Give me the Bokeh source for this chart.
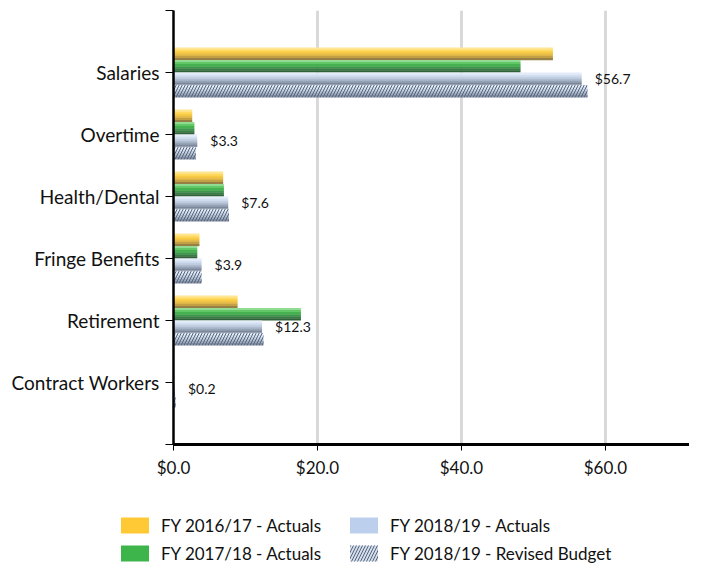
from bokeh.plotting import figure
from bokeh.layouts import column
from bokeh.models import (ColumnDataSource, FixedTicker, Legend, LegendItem,
                          Range1d, NumeralTickFormatter)
from bokeh.embed import file_html
from bokeh.resources import INLINE
from bokeh.core.properties import value

# ---------------- data ----------------
categories = ["Salaries", "Overtime", "Health/Dental", "Fringe Benefits",
              "Retirement", "Contract Workers"]
fy1617 = [52.7, 2.6, 6.9, 3.6, 8.9, 0.0]
fy1718 = [48.2, 2.9, 7.0, 3.3, 17.7, 0.0]
fy1819 = [56.7, 3.3, 7.6, 3.9, 12.3, 0.2]
fy1819_budget = [57.5, 3.1, 7.7, 3.9, 12.5, 0.3]
series_names = ["FY 2016/17 - Actuals", "FY 2017/18 - Actuals",
                "FY 2018/19 - Actuals", "FY 2018/19 - Revised Budget"]
x_ticks = [0, 20, 40, 60]

FONT = "Lato"

n = len(categories)
pos = [n - i for i in range(n)]          # Salaries at top

p = figure(width=689, height=490, output_backend="svg", toolbar_location=None,
           x_range=Range1d(0, 71.67), y_range=Range1d(0, n + 1),
           min_border_left=173, min_border_right=0, min_border_top=10,
           min_border_bottom=46)
p.outline_line_color = None

# shading (top -> bottom) for a cylinder-like look
shades = [
    ["#FFE591", "#FFD95C", "#F7C944", "#E6BC4A", "#C4A044", "#978045"],
    ["#92DB92", "#62C766", "#45B14F", "#3C9849", "#367E43", "#2F6239"],
    ["#E3ECF8", "#D2DFF1", "#C0CFE4", "#ADBBCE", "#95A1B5", "#7C879A"],
    ["#E4ECF6", "#D6E0EE", "#C6D2E3", "#B3C0D2", "#9DA9BC", "#8590A3"],
]
series_vals = [fy1617, fy1718, fy1819, fy1819_budget]
offsets = [0.3, 0.1, -0.1, -0.3]
bh = 0.2

for vals, off, cols in zip(series_vals, offsets, shades):
    k = len(cols)
    sh = bh / k
    for j, c in enumerate(cols):
        ys = [y + off + bh / 2 - (j + 0.5) * sh for y in pos]
        src = ColumnDataSource(dict(y=ys, right=vals))
        p.hbar(y="y", left=0, right="right", height=sh * 1.12, source=src,
               fill_color=c, line_color=None)

# hatch overlay on the revised budget
hsrc = ColumnDataSource(dict(y=[y + offsets[3] for y in pos], right=fy1819_budget))
p.hbar(y="y", left=0, right="right", height=bh, source=hsrc, fill_alpha=0,
       line_color=None, hatch_pattern="/", hatch_color="#56657C",
       hatch_scale=6, hatch_weight=1.0)

# value labels for FY 2018/19 actuals
lsrc = ColumnDataSource(dict(x=fy1819, y=[y + offsets[2] for y in pos],
                             t=["$%.1f" % v for v in fy1819]))
p.text(x="x", y="y", text="t", source=lsrc, x_offset=13, text_baseline="middle",
       text_font=value(FONT), text_font_size="14px", text_color="#111111")

# axes
p.xaxis.ticker = FixedTicker(ticks=x_ticks)
p.xaxis.formatter = NumeralTickFormatter(format="$0.0")
p.xaxis.axis_line_color = "black"
p.xaxis.axis_line_width = 3
p.xaxis.major_tick_out = 6
p.xaxis.major_tick_in = 0
p.xaxis.minor_tick_line_color = None
p.xaxis.major_tick_line_color = "black"
p.xaxis.major_label_standoff = 6
p.xaxis.major_label_text_font = FONT
p.xaxis.major_label_text_font_size = "17px"
p.xaxis.major_label_text_color = "#111111"

p.yaxis.ticker = FixedTicker(ticks=list(range(0, n + 2)))
overrides = {0: "", n + 1: ""}
for y, c in zip(pos, categories):
    overrides[y] = c
p.yaxis.major_label_overrides = overrides
p.yaxis.axis_line_color = "black"
p.yaxis.axis_line_width = 2.5
p.yaxis.major_tick_out = 8
p.yaxis.major_tick_in = 0
p.yaxis.minor_tick_line_color = None
p.yaxis.major_label_standoff = 6
p.yaxis.major_label_text_font = FONT
p.yaxis.major_label_text_font_size = "19px"
p.yaxis.major_label_text_color = "#111111"

p.ygrid.visible = False
p.xgrid.ticker = FixedTicker(ticks=x_ticks[1:])
p.xgrid.grid_line_color = "#D9D9D9"
p.xgrid.grid_line_width = 3

# ---------------- legend panel ----------------
lg = figure(width=689, height=73, output_backend="svg", toolbar_location=None,
            x_range=Range1d(0, 1), y_range=Range1d(0, 1),
            x_axis_type=None, y_axis_type=None,
            min_border=0, min_border_left=0, min_border_right=0,
            min_border_top=0, min_border_bottom=0)
lg.outline_line_color = None
lg.grid.visible = False
for fig in (p, lg):
    try:
        fig.frame_align = False
    except Exception:
        pass

leg_fill = ["#FFC935", "#3DB54A", "#BCD0EE", "#D3DDEB"]
items = []
for i, (name, c) in enumerate(zip(series_names, leg_fill)):
    kw = {}
    if i == 3:
        kw = dict(hatch_pattern="/", hatch_color="#56657C", hatch_scale=6,
                  hatch_weight=1.0)
    src = ColumnDataSource(dict(y=[-5.0], left=[0.0], right=[0.0]))
    r = lg.hbar(y="y", left="left", right="right", height=0.2, source=src,
                fill_color=c, line_color=None, **kw)
    items.append(LegendItem(label=name, renderers=[r]))

legend = Legend(items=items, location=(117, -4), nrows=2,
                orientation="vertical",
                glyph_width=35, glyph_height=20, label_standoff=9,
                label_width=185, label_height=28, spacing=0, padding=0,
                margin=0, border_line_alpha=0, background_fill_alpha=0,
                label_text_font=FONT, label_text_font_size="17px",
                label_text_color="#111111")
lg.add_layout(legend, "center")

layout = column(p, lg, spacing=0)
open("out.html", "w").write(file_html(layout, INLINE))
